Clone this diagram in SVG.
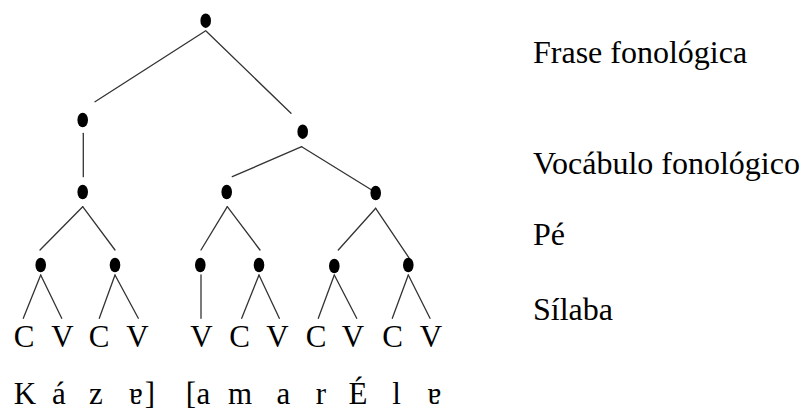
<svg xmlns="http://www.w3.org/2000/svg" width="812" height="410" viewBox="0 0 812 410">
<style>
.dot{fill:#000}
.edge{stroke:#333;stroke-width:1.3;fill:none;stroke-linecap:round}
.t{font-family:"Liberation Serif","Times New Roman",serif;fill:#000}
.seg{font-size:31px;text-anchor:middle}
.lab{font-size:32px}
</style>
<rect width="812" height="410" fill="#fff"/>
<g id="connectors">
<line class="edge" x1="205.7" y1="30.7" x2="95" y2="101.7"/>
<line class="edge" x1="206.5" y1="31.5" x2="291" y2="113.3"/>
<line class="edge" x1="83.3" y1="133.3" x2="83.3" y2="176.7"/>
<line class="edge" x1="301.7" y1="146.7" x2="232.3" y2="176.7"/>
<line class="edge" x1="301.7" y1="146.7" x2="371.7" y2="190"/>
<line class="edge" x1="82.7" y1="206.7" x2="40" y2="250"/>
<line class="edge" x1="82.7" y1="206.7" x2="115" y2="250"/>
<line class="edge" x1="227.3" y1="206.7" x2="201" y2="250"/>
<line class="edge" x1="227.3" y1="206.7" x2="260" y2="250"/>
<line class="edge" x1="375.7" y1="208.3" x2="338.3" y2="250"/>
<line class="edge" x1="375.7" y1="208.3" x2="409.3" y2="258.3"/>
<line class="edge" x1="40.7" y1="275" x2="23.3" y2="318.3"/>
<line class="edge" x1="40.7" y1="275" x2="61.7" y2="318.3"/>
<line class="edge" x1="115" y1="275" x2="99.3" y2="318.3"/>
<line class="edge" x1="115" y1="275" x2="138.3" y2="318.3"/>
<line class="edge" x1="201" y1="275" x2="201" y2="318.3"/>
<line class="edge" x1="259" y1="275" x2="241.7" y2="318.3"/>
<line class="edge" x1="259" y1="275" x2="279.3" y2="318.3"/>
<line class="edge" x1="334.3" y1="275" x2="318.3" y2="318.3"/>
<line class="edge" x1="334.3" y1="275" x2="356.7" y2="318.3"/>
<line class="edge" x1="408.3" y1="275" x2="392.3" y2="318.3"/>
<line class="edge" x1="408.3" y1="275" x2="430" y2="318.3"/>
</g>
<g id="n-root"><ellipse class="dot" cx="205.7" cy="20.7" rx="5.3" ry="7.3"/></g>
<g id="n-L1"><ellipse class="dot" cx="82.7" cy="120" rx="5.3" ry="7.3"/></g>
<g id="n-R1"><ellipse class="dot" cx="302.7" cy="131.7" rx="5.3" ry="7.3"/></g>
<g id="n-L2"><ellipse class="dot" cx="82.7" cy="192" rx="5.3" ry="7.3"/></g>
<g id="n-M2"><ellipse class="dot" cx="226.7" cy="192" rx="5.3" ry="7.3"/></g>
<g id="n-R2"><ellipse class="dot" cx="375.7" cy="193" rx="5.3" ry="7.3"/></g>
<g id="n-f1"><ellipse class="dot" cx="40.7" cy="265" rx="5.3" ry="7.3"/></g>
<g id="n-f2"><ellipse class="dot" cx="115" cy="265" rx="5.3" ry="7.3"/></g>
<g id="n-f3"><ellipse class="dot" cx="200.3" cy="265" rx="5.3" ry="7.3"/></g>
<g id="n-f4"><ellipse class="dot" cx="259" cy="265" rx="5.3" ry="7.3"/></g>
<g id="n-f5"><ellipse class="dot" cx="334.3" cy="266" rx="5.3" ry="7.3"/></g>
<g id="n-f6"><ellipse class="dot" cx="408.3" cy="265" rx="5.3" ry="7.3"/></g>
<g id="cv-row">
<text class="t seg" y="347" x="24 62.5 99 137.5 201.5 239.5 277.5 316 353 392.5 431">CVCVVCVCVCV</text>
</g>
<g id="transcription">
<text class="t seg" y="404"><tspan x="25">K</tspan><tspan x="59">á</tspan><tspan x="96">z</tspan><tspan x="136">ɐ</tspan><tspan x="150">]</tspan><tspan x="191">[</tspan><tspan x="203.5">a</tspan><tspan x="240">m</tspan><tspan x="283.5">a</tspan><tspan x="321">r</tspan><tspan x="358">É</tspan><tspan x="396.5">l</tspan><tspan x="434.5">ɐ</tspan></text>
</g>
<g id="labels">
<text class="t lab" x="533" y="63">Frase fonológica</text>
<text class="t lab" x="533" y="174">Vocábulo fonológico</text>
<text class="t lab" x="533" y="245">Pé</text>
<text class="t lab" x="533" y="320">Sílaba</text>
</g>
</svg>
